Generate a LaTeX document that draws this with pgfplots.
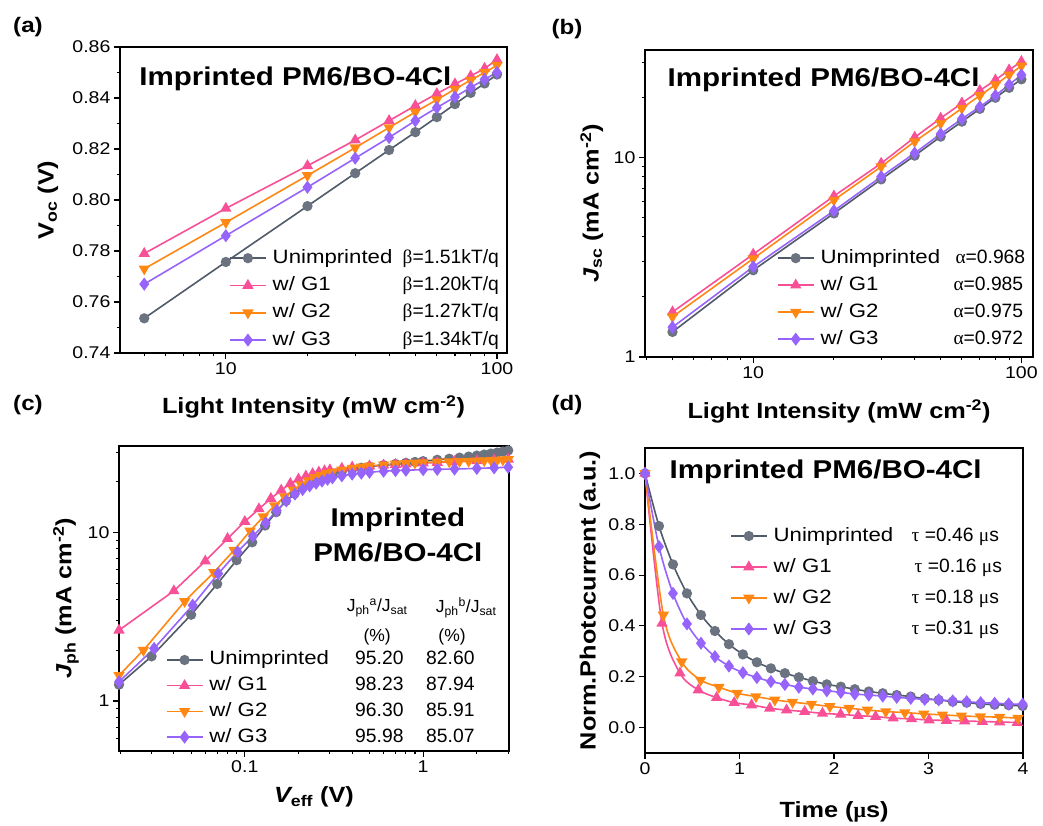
\documentclass[border=0pt]{standalone}
\usepackage{fontspec}
\setmainfont[FakeStretch=1.15]{Liberation Sans}
\newfontfamily\nsf{Liberation Sans}
\newfontfamily\grk{Liberation Serif}
\usepackage{pgfplots}
\pgfplotsset{compat=1.18}
\definecolor{cgray}{RGB}{80,90,104}
\definecolor{cpink}{RGB}{247,80,150}
\definecolor{corange}{RGB}{255,136,20}
\definecolor{cpurple}{RGB}{150,100,250}
\tikzset{ttl/.style={font=\bfseries\fontsize{25.7}{25.7}\selectfont}}
\pgfplotsset{
  panel/.style={scale only axis, axis line style={line width=1.6pt}, tick style={line width=1.1pt, black},
    tick align=outside, tick pos=left, major tick length=6pt, minor tick length=3.5pt,
    ticklabel style={font=\fontsize{17}{17}\selectfont}, /pgf/number format/assume math mode=true,
    label style={font=\bfseries\fontsize{22}{22}\selectfont},
    legend cell align=left,
    legend style={draw=none, fill=none, font=\fontsize{19.3}{19.3}\selectfont, inner sep=0pt, outer sep=0pt,
      nodes={inner sep=0pt, text height=14pt, text depth=4pt},
      /tikz/every odd column/.append style={column sep=6pt}},
    legend image code/.code={\draw[mark repeat=2,mark phase=2,##1] plot coordinates {(0pt,0pt) (18pt,0pt) (36pt,0pt)};},
  },
  s1/.style={cgray, line width=1.6pt, mark=*, mark size=4.3pt, mark options={fill=cgray!85!white, draw=cgray!85!white}},
  s2/.style={cpink, line width=1.6pt, mark=triangle*, mark size=5pt, mark options={fill=cpink, draw=cpink}},
  s3/.style={corange, line width=1.6pt, mark=triangle*, mark size=5pt, mark options={fill=corange, draw=corange, rotate=180}},
  s4/.style={cpurple, line width=1.6pt, mark=diamond*, mark size=5.3pt, mark options={fill=cpurple, draw=cpurple}},
}
\begin{document}
\begin{tikzpicture}
% ---------------- (a)
\begin{axis}[panel, at={(120pt,472pt)}, anchor=south west, width=387pt, height=306pt,
  xmode=log, xmin=4.07, xmax=108.9, ymin=0.74, ymax=0.86,
  ytick={0.74,0.76,0.78,0.80,0.82,0.84,0.86}, minor ytick={0.75,0.77,0.79,0.81,0.83,0.85},
  yticklabel style={/pgf/number format/.cd, fixed, fixed zerofill, precision=2},
  xtick={10,100}, xticklabels={10,100}, minor xtick={5,6,7,8,9,20,30,40,50,60,70,80,90},
  xlabel={Light Intensity (mW cm\textsuperscript{-2})}, ylabel={V\textsubscript{oc} (V)},
  xlabel style={at={(axis description cs:0.5,-0.199)}, anchor=base},
  ylabel style={at={(axis description cs:-0.186,0.5)}, anchor=center},
  legend style={at={(0.282,0.176)}, anchor=west, row sep=9.3pt}]
\addplot[s1] coordinates {(5,0.7536)(10,0.7757)(20,0.7976)(30,0.8105)(40,0.8196)(50,0.8266)(60,0.8325)(70,0.8376)(80,0.8420)(90,0.8457)(100,0.8492)};
\addlegendentry{\makebox[130pt][l]{Unimprinted}{\nsf{\grk β}=1.51kT/q}}
\addplot[s2] coordinates {(5,0.7790)(10,0.7967)(20,0.8134)(30,0.8235)(40,0.8311)(50,0.8370)(60,0.8417)(70,0.8455)(80,0.8486)(90,0.8516)(100,0.8550)};
\addlegendentry{\makebox[130pt][l]{w/ G1}{\nsf{\grk β}=1.20kT/q}}
\addplot[s3] coordinates {(5,0.7730)(10,0.7912)(20,0.8096)(30,0.8205)(40,0.8284)(50,0.8345)(60,0.8393)(70,0.8435)(80,0.8470)(90,0.8500)(100,0.8528)};
\addlegendentry{\makebox[130pt][l]{w/ G2}{\nsf{\grk β}=1.27kT/q}}
\addplot[s4] coordinates {(5,0.7670)(10,0.7860)(20,0.8050)(30,0.8164)(40,0.8245)(50,0.8311)(60,0.8362)(70,0.8404)(80,0.8441)(90,0.8473)(100,0.8500)};
\addlegendentry{\makebox[130pt][l]{w/ G3}{\nsf{\grk β}=1.34kT/q}}
\node[anchor=west, ttl] at (rel axis cs:0.041,0.895) {Imprinted PM6/BO-4Cl};
\end{axis}
% ---------------- (b)
\begin{axis}[panel, at={(645pt,468pt)}, anchor=south west, width=388pt, height=307pt,
  xmode=log, ymode=log, xmin=3.95, xmax=110.5, ymin=1, ymax=34.5,
  xtick={10,100}, xticklabels={10,100}, minor xtick={4,5,6,7,8,9,20,30,40,50,60,70,80,90},
  ytick={1,10}, yticklabels={1,10}, minor ytick={2,3,4,5,6,7,8,9,20,30},
  xlabel={Light Intensity (mW cm\textsuperscript{-2})}, ylabel={{\itshape J}\textsubscript{sc} (mA cm\textsuperscript{-2})},
  xlabel style={at={(axis description cs:0.5,-0.199)}, anchor=base},
  ylabel style={at={(axis description cs:-0.137,0.5)}, anchor=center},
  legend style={at={(0.340,0.19)}, anchor=west, row sep=9pt}]
\addplot[s1] coordinates {(5,1.335)(10,2.72)(20,5.24)(30,7.76)(40,10.2)(50,12.7)(60,15.1)(70,17.5)(80,19.9)(90,22.3)(100,24.6)};
\addlegendentry{\makebox[135pt][l]{Unimprinted}{\nsf{\grk α}=0.968}}
\addplot[s2] coordinates {(5,1.68)(10,3.27)(20,6.40)(30,9.33)(40,12.6)(50,15.7)(60,18.7)(70,21.6)(80,24.4)(90,27.4)(100,30.2)};
\addlegendentry{\makebox[133pt][l]{w/ G1}{\nsf{\grk α}=0.985}}
\addplot[s3] coordinates {(5,1.59)(10,3.11)(20,6.11)(30,8.98)(40,12.0)(50,14.8)(60,17.6)(70,20.4)(80,23.1)(90,25.9)(100,28.7)};
\addlegendentry{\makebox[133pt][l]{w/ G2}{\nsf{\grk α}=0.975}}
\addplot[s4] coordinates {(5,1.41)(10,2.83)(20,5.40)(30,8.0)(40,10.5)(50,13.1)(60,15.6)(70,17.9)(80,20.4)(90,23.1)(100,25.9)};
\addlegendentry{\makebox[133pt][l]{w/ G3}{\nsf{\grk α}=0.972}}
\node[anchor=west, ttl] at (rel axis cs:0.049,0.902) {Imprinted PM6/BO-4Cl};
\end{axis}
% ---------------- (c)
\begin{axis}[panel, at={(119pt,74pt)}, anchor=south west, width=390pt, height=305pt,
  xmode=log, ymode=log, xmin=0.0197, xmax=3.03, ymin=0.505, ymax=32.6,
  xtick={0.1,1}, xticklabels={0.1,1}, minor xtick={0.02,0.03,0.04,0.05,0.06,0.07,0.08,0.09,0.2,0.3,0.4,0.5,0.6,0.7,0.8,0.9,2,3},
  ytick={1,10}, yticklabels={1,10}, minor ytick={0.6,0.7,0.8,0.9,2,3,4,5,6,7,8,9,20,30},
  xlabel={{\itshape V}\textsubscript{eff} (V)}, ylabel={{\itshape J}\textsubscript{ph} (mA cm\textsuperscript{-2})},
  xlabel style={at={(axis description cs:0.5,-0.170)}, anchor=base},
  ylabel style={at={(axis description cs:-0.136,0.5)}, anchor=center},
  legend style={at={(0.120,0.172)}, anchor=west, row sep=7.7pt}]
\addplot[s1] coordinates {(0.0197,1.25)(0.03,1.84)(0.05,3.25)(0.07,4.95)(0.09,6.85)(0.11,8.75)(0.13,11.0)(0.15,13.2)(0.17,15.4)(0.19,17.0)(0.21,18.4)(0.23,19.5)(0.25,20.4)(0.27,21.1)(0.29,21.7)(0.31,22.2)(0.35,23.0)(0.40,23.7)(0.45,24.2)(0.50,24.6)(0.60,25.1)(0.70,25.5)(0.80,25.9)(0.90,26.2)(1.0,26.5)(1.2,27.0)(1.4,27.4)(1.6,27.8)(1.8,28.2)(2.0,28.6)(2.2,29.0)(2.4,29.4)(2.6,29.8)(2.8,30.2)(3.0,30.7)};
\addlegendentry{\makebox[134pt][l]{Unimprinted}{\nsf\makebox[72pt]{95.20}\makebox[70pt]{82.60}}}
\addplot[s2] coordinates {(0.0197,2.63)(0.04,4.50)(0.06,6.76)(0.08,9.2)(0.10,11.6)(0.12,13.8)(0.14,15.9)(0.16,17.8)(0.18,19.5)(0.20,20.7)(0.22,21.6)(0.24,22.3)(0.26,22.8)(0.28,23.2)(0.30,23.5)(0.35,24.0)(0.40,24.4)(0.5,24.8)(0.6,25.1)(0.7,25.3)(0.8,25.5)(1.0,25.8)(1.2,26.0)(1.5,26.3)(2.0,26.6)(2.5,26.9)(3.0,27.2)};
\addlegendentry{\makebox[134pt][l]{w/ G1}{\nsf\makebox[72pt]{98.23}\makebox[70pt]{87.94}}}
\addplot[s3] coordinates {(0.0197,1.42)(0.027,2.0)(0.046,3.9)(0.067,5.8)(0.087,7.85)(0.107,10.2)(0.127,12.4)(0.147,14.4)(0.167,16.3)(0.187,17.9)(0.207,19.2)(0.227,20.3)(0.247,21.2)(0.267,21.9)(0.287,22.4)(0.31,22.9)(0.35,23.5)(0.4,24.1)(0.45,24.5)(0.5,24.8)(0.6,25.2)(0.7,25.5)(0.8,25.7)(0.9,25.9)(1.0,26.0)(1.2,26.2)(1.4,26.3)(1.6,26.4)(1.8,26.5)(2.0,26.6)(2.2,26.7)(2.4,26.8)(2.6,26.9)(2.8,27.0)(3.0,27.1)};
\addlegendentry{\makebox[134pt][l]{w/ G2}{\nsf\makebox[72pt]{96.30}\makebox[70pt]{85.91}}}
\addplot[s4] coordinates {(0.0197,1.30)(0.031,2.05)(0.051,3.70)(0.071,5.70)(0.091,7.67)(0.111,9.5)(0.131,11.4)(0.151,13.5)(0.171,15.4)(0.191,16.9)(0.211,18.0)(0.231,18.9)(0.251,19.6)(0.271,20.2)(0.291,20.7)(0.31,21.1)(0.35,21.7)(0.4,22.2)(0.45,22.5)(0.5,22.8)(0.6,23.1)(0.7,23.3)(0.8,23.4)(1.0,23.6)(1.2,23.7)(1.5,23.8)(2.0,24.0)(2.5,24.2)(3.0,24.4)};
\addlegendentry{\makebox[134pt][l]{w/ G3}{\nsf\makebox[72pt]{95.98}\makebox[70pt]{85.07}}}
\node[align=center, font=\bfseries\fontsize{25.7}{35}\selectfont] at (rel axis cs:0.715,0.710) {Imprinted\\PM6/BO-4Cl};
\node[font=\nsf\fontsize{17.5}{17.5}\selectfont] at (rel axis cs:0.662,0.469) {J\textsubscript{ph}\textsuperscript{a}/J\textsubscript{sat}};
\node[font=\nsf\fontsize{17.5}{17.5}\selectfont] at (rel axis cs:0.662,0.374) {(\%)};
\node[font=\nsf\fontsize{17.5}{17.5}\selectfont] at (rel axis cs:0.890,0.469) {J\textsubscript{ph}\textsuperscript{b}/J\textsubscript{sat}};
\node[font=\nsf\fontsize{17.5}{17.5}\selectfont] at (rel axis cs:0.854,0.374) {(\%)};
\end{axis}
% ---------------- (d)
\begin{axis}[panel, at={(645pt,72pt)}, anchor=south west, width=378pt, height=305pt,
  xmin=0, xmax=4, ymin=-0.1, ymax=1.1,
  xtick={0,1,2,3,4}, ytick={0,0.2,0.4,0.6,0.8,1.0},
  yticklabel style={/pgf/number format/.cd, fixed, fixed zerofill, precision=1},
  xlabel={Time ({\grk μ}s)}, ylabel={Norm.Photocurrent (a.u.)},
  xlabel style={at={(axis description cs:0.5,-0.213)}, anchor=base},
  ylabel style={at={(axis description cs:-0.146,0.5)}, anchor=center},
  legend style={at={(0.225,0.559)}, anchor=west, row sep=13pt}]
\addplot[s1, smooth] coordinates {(0,1.000)(0.148,0.793)(0.296,0.642)(0.444,0.528)(0.592,0.443)(0.740,0.380)(0.888,0.328)(1.036,0.288)(1.184,0.257)(1.332,0.233)(1.480,0.214)(1.628,0.198)(1.776,0.183)(1.924,0.170)(2.072,0.161)(2.220,0.151)(2.368,0.142)(2.516,0.135)(2.664,0.128)(2.812,0.122)(2.960,0.114)(3.108,0.109)(3.256,0.102)(3.404,0.098)(3.552,0.093)(3.700,0.090)(3.848,0.088)(3.996,0.085)};
\addlegendentry{\makebox[138pt][l]{Unimprinted}{\nsf{\grk τ} =0.46 {\grk μ}s}}
\addplot[s2, smooth] coordinates {(0,1.0)(0.18,0.410)(0.37,0.214)(0.564,0.148)(0.758,0.118)(0.944,0.098)(1.128,0.089)(1.32,0.076)(1.498,0.069)(1.69,0.063)(1.878,0.056)(2.07,0.052)(2.255,0.047)(2.44,0.043)(2.626,0.037)(2.82,0.034)(3.006,0.030)(3.19,0.028)(3.383,0.026)(3.57,0.024)(3.753,0.022)(3.94,0.020)};
\addlegendentry{\makebox[141pt][l]{w/ G1}{\nsf{\grk τ} =0.16 {\grk μ}s}}
\addplot[s3, smooth] coordinates {(0,1.0)(0.194,0.443)(0.388,0.259)(0.589,0.187)(0.782,0.159)(0.976,0.135)(1.174,0.122)(1.374,0.109)(1.561,0.100)(1.762,0.092)(1.956,0.083)(2.16,0.076)(2.354,0.069)(2.548,0.063)(2.749,0.059)(2.95,0.054)(3.147,0.050)(3.348,0.046)(3.549,0.043)(3.753,0.041)(3.947,0.037)};
\addlegendentry{\makebox[138pt][l]{w/ G2}{\nsf{\grk τ} =0.18 {\grk μ}s}}
\addplot[s4, smooth] coordinates {(0,1.0)(0.148,0.712)(0.296,0.528)(0.444,0.408)(0.592,0.332)(0.740,0.279)(0.888,0.242)(1.036,0.216)(1.184,0.197)(1.332,0.181)(1.480,0.170)(1.628,0.159)(1.776,0.152)(1.924,0.145)(2.072,0.139)(2.220,0.132)(2.368,0.128)(2.516,0.124)(2.664,0.119)(2.812,0.115)(2.960,0.111)(3.108,0.109)(3.256,0.105)(3.404,0.102)(3.552,0.098)(3.700,0.096)(3.848,0.093)(3.996,0.092)};
\addlegendentry{\makebox[138pt][l]{w/ G3}{\nsf{\grk τ} =0.31 {\grk μ}s}}
\node[anchor=west, ttl] at (rel axis cs:0.056,0.921) {Imprinted PM6/BO-4Cl};
\end{axis}
% panel labels
\node[font=\bfseries\fontsize{21}{21}\selectfont] at (28pt,798pt) {(a)};
\node[font=\bfseries\fontsize{21}{21}\selectfont] at (567pt,796pt) {(b)};
\node[font=\bfseries\fontsize{21}{21}\selectfont] at (28pt,420pt) {(c)};
\node[font=\bfseries\fontsize{21}{21}\selectfont] at (567pt,420pt) {(d)};
\pgfresetboundingbox
\path[use as bounding box] (0pt,0pt) rectangle (1043pt,825pt);
\end{tikzpicture}
\end{document}
